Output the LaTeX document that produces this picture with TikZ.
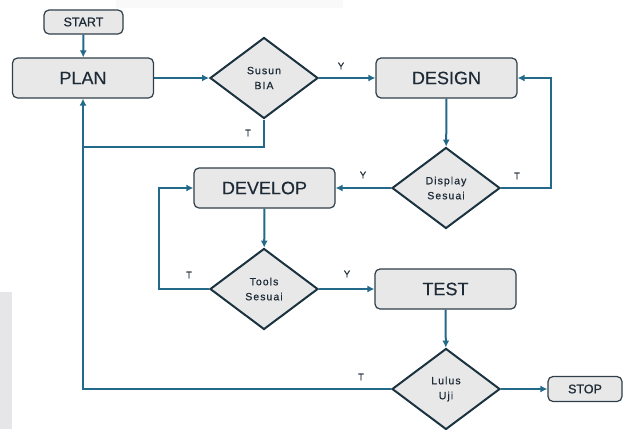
\documentclass[tikz,border=0pt]{standalone}
\usepackage{fontspec}
\setmainfont{Liberation Sans}
\usetikzlibrary{arrows.meta,positioning,shapes.geometric}
\definecolor{Ink}{HTML}{1E2B36}
\definecolor{Flow}{HTML}{23698A}
\definecolor{Edge}{HTML}{2F3E48}
\definecolor{Rim}{HTML}{1C3340}
\definecolor{Box}{HTML}{E8E8E9}
\definecolor{Panel}{HTML}{E6E6E8}
\tikzset{
  stepbox/.style={draw=Edge,line width=1.2pt,rounded corners=5pt,fill=Box,text=Ink,minimum width=141pt,minimum height=40pt,font=\fontsize{18}{20}\selectfont\addfontfeatures{FakeBold=0.3}},
  termbox/.style={stepbox,minimum width=79pt,minimum height=24pt,font=\fontsize{12.5}{14}\selectfont\addfontfeatures{FakeBold=0.8}},
  decide/.style={diamond,draw=Rim,line width=2pt,fill=Box,text=Ink,minimum width=108pt,minimum height=81pt,inner sep=0pt,align=center,font=\fontsize{10.5}{15}\selectfont\addfontfeatures{LetterSpace=10,FakeBold=0.6}},
  arrow/.style={-{Latex[length=7pt,width=7pt]},line width=2pt,draw=Flow},
  link/.style={line width=2pt,draw=Flow},
  tag/.style={text=Ink,font=\fontsize{9.5}{11}\selectfont\addfontfeatures{FakeBold=0.8}}
}
\begin{document}
\begin{tikzpicture}[x=1pt,y=-1pt]
  \useasboundingbox (0,0) rectangle (624,429);
  \fill[Panel] (0,292) rectangle (12,429);
  \fill[gray!5] (116,0) rectangle (343,8);
  % steps
  \node[termbox] (start) at (83.5,22) {START};
  \node[stepbox] (plan) at (83,78) {PLAN};
  \node[decide] (bia) at (264,78) {Susun\\BIA};
  \node[stepbox] (design) at (446.5,78) {DESIGN};
  \node[decide] (display) at (446,188) {Display\\Sesuai};
  \node[stepbox] (develop) at (264.5,188) {DEVELOP};
  \node[decide] (tools) at (264,289) {Tools\\Sesuai};
  \node[stepbox] (test) at (445.5,289) {TEST};
  \node[decide] (uji) at (446,389) {Lulus\\Uji};
  \node[termbox,minimum width=74pt,minimum height=25pt] (stop) at (585,389) {STOP};
  \coordinate (joinT) at (83,147);
  % connectors
  \draw[arrow] (start) -- (plan);
  \draw[arrow] (plan) -- (bia);
  \draw[arrow] (bia) -- (design);
  \draw[link] (bia.south) |- (joinT);
  \draw[arrow] (design) -- (display);
  \draw[arrow] (display.east) -- ++(50,0) |- (design.east);
  \draw[arrow] (display) -- (develop);
  \draw[arrow] (develop) -- (tools);
  \draw[arrow] (tools.west) -- ++(-50,0) |- (develop.west);
  \draw[arrow] (tools) -- (test);
  \draw[arrow] (test) -- (uji);
  \draw[arrow] (uji) -- (stop);
  \draw[arrow] (uji.west) -| (plan.south);
  % labels
  \node[tag] (yBia) at (341,66) {Y};
  \node[tag] (tBia) at (248,133) {T};
  \node[tag] (yDisplay) at (363,175) {Y};
  \node[tag] (tDisplay) at (517,176) {T};
  \node[tag] (tTools) at (189,275) {T};
  \node[tag] (yTools) at (347,274) {Y};
  \node[tag] (tUji) at (361,377) {T};
\end{tikzpicture}
\end{document}
